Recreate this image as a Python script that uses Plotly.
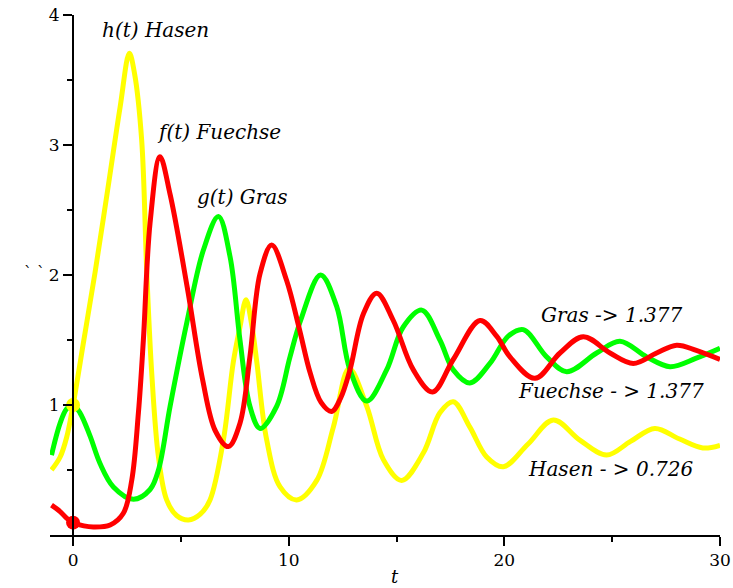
import plotly.graph_objects as go

# Hasen h(t)
t_hasen = [-1.0, -0.6, -0.3, 0.0, 0.5, 1.02, 1.6, 2.18, 2.61, 2.85, 3.18, 3.42, 3.65, 3.96,
           4.34, 4.8, 5.35, 5.9, 6.35, 6.97, 7.43, 7.74, 8.02, 8.3, 8.52, 8.98, 9.6, 10.37, 11.3,
           12.07, 12.8, 13.62, 14.39, 15.24, 16.24, 17.01, 17.63, 18.4, 19.18, 19.95, 21.1,
           22.27, 23.5, 24.74, 25.85, 26.98, 28.1, 29.2, 30.0]
h_hasen = [0.5, 0.6, 0.75, 1.0, 1.5, 2.02, 2.65, 3.29, 3.705, 3.55, 3.04, 2.01, 1.24, 0.60,
           0.27, 0.15, 0.115, 0.16, 0.27, 0.73, 1.33, 1.6, 1.81, 1.6, 1.33, 0.73, 0.37, 0.27, 0.42,
           0.83, 1.28, 0.99, 0.58, 0.42, 0.63, 0.94, 1.025, 0.83, 0.60, 0.525, 0.70,
           0.885, 0.73, 0.615, 0.72, 0.82, 0.74, 0.67, 0.69]

# Fuechse f(t)
t_fuchs = [-1.0, -0.6, -0.3, 0.0, 0.5, 0.94, 1.72, 2.33, 2.72, 3.03, 3.26, 3.57, 4.03, 4.5,
           5.3, 6.0, 6.6, 7.2, 7.74, 8.2, 8.67, 9.21, 9.9, 10.5, 10.99, 11.5, 11.99,
           12.4, 12.84, 13.46, 14.08, 14.85, 15.78, 16.67, 17.63, 18.87, 19.64, 20.26, 21.42,
           22.58, 23.66, 24.9, 25.98, 27.06, 27.99, 28.9, 30.0]
f_fuchs = [0.23, 0.18, 0.13, 0.095, 0.07, 0.062, 0.077, 0.167, 0.42, 0.94, 1.5, 2.40, 2.91, 2.62,
           1.9, 1.2, 0.8, 0.68, 0.86, 1.37, 2.01, 2.23, 1.96, 1.58, 1.25, 1.02, 0.95,
           1.05, 1.27, 1.70, 1.86, 1.65, 1.27, 1.10, 1.35, 1.65, 1.53, 1.37, 1.205,
           1.40, 1.525, 1.40, 1.32, 1.40, 1.46, 1.42, 1.35]

# Gras g(t)
t_gras = [-1.0, -0.6, -0.3, 0.0, 0.32, 0.79, 1.25, 1.87, 2.8, 3.57, 3.96, 4.5, 5.27, 6.04,
          6.74, 7.28, 7.74, 8.2, 8.67, 9.44, 10.06, 10.55, 11.48, 12.22, 12.84, 13.62, 14.54,
          15.31, 16.17, 17.01, 17.63, 18.4, 19.33, 20.18, 20.88, 21.96, 22.89, 24.28, 25.36,
          26.6, 27.68, 28.9, 30.0]
g_gras = [0.615, 0.86, 0.97, 1.0, 0.94, 0.76, 0.55, 0.37, 0.275, 0.35, 0.5, 0.99, 1.63, 2.19,
          2.45, 2.14, 1.5, 0.99, 0.82, 0.99, 1.37, 1.65, 2.0, 1.76, 1.27, 1.03, 1.27,
          1.60, 1.73, 1.5, 1.27, 1.17, 1.32, 1.53, 1.58, 1.37, 1.256, 1.40, 1.49,
          1.37, 1.295, 1.36, 1.436]

# Anfangswerte
start_t = [0.0, 0.0]
start_v = [1.0, 0.095]
start_col = ["#FFFF00", "#FF0000"]

x_ticks = [0, 10, 20, 30]
x_minor = [5, 15, 25]
y_ticks = [1, 2, 3, 4]
y_minor = [0.5, 1.5, 2.5, 3.5]

YELLOW, RED, GREEN = "#FFFF00", "#FF0000", "#00FF00"
SERIF = "DejaVu Serif"

fig = go.Figure()
fig.add_trace(go.Scatter(x=t_hasen, y=h_hasen, mode="lines",
                         line=dict(color=YELLOW, width=5, shape="spline", smoothing=1.0)))
fig.add_trace(go.Scatter(x=t_gras, y=g_gras, mode="lines",
                         line=dict(color=GREEN, width=5, shape="spline", smoothing=1.0)))
fig.add_trace(go.Scatter(x=t_fuchs, y=f_fuchs, mode="lines",
                         line=dict(color=RED, width=5, shape="spline", smoothing=1.0)))
fig.add_trace(go.Scatter(x=start_t, y=start_v, mode="markers",
                         marker=dict(color=start_col, size=14), cliponaxis=False))

W, H = 733, 588
ML, MR, MT, MB = 50, 13, 15, 53
x_lo, x_hi = -1.07, 30.0
pw = W - ML - MR


def px(xp):
    return (xp - ML) / pw


def py(yp):
    return (H - MB - yp) / (H - MT - MB)


labels = [
    ("h(t) Hasen", 155, 30),
    ("f(t) Fuechse", 219, 132),
    ("g(t) Gras", 243, 197),
    ("Gras -> 1.377", 611, 315),
    ("Fuechse - > 1.377", 611, 391),
    ("Hasen - > 0.726", 610, 469),
]
for txt, xp, yp in labels:
    fig.add_annotation(x=px(xp), y=py(yp), xref="paper", yref="paper", text="<i>%s</i>" % txt,
                       showarrow=False, xanchor="center", yanchor="middle",
                       font=dict(family=SERIF, size=20, color="black"))

fig.add_annotation(x=px(22), y=py(272), xref="paper", yref="paper", text="` `",
                   showarrow=False, font=dict(family=SERIF, size=16, color="black"))
fig.add_annotation(x=px(395), y=py(576), xref="paper", yref="paper", text="<i>t</i>",
                   showarrow=False, yanchor="middle",
                   font=dict(family=SERIF, size=18, color="black"))

fig.update_layout(
    width=W, height=H, margin=dict(l=ML, r=MR, t=MT, b=MB, autoexpand=False),
    paper_bgcolor="white", plot_bgcolor="white", showlegend=False,
    xaxis=dict(range=[x_lo, x_hi], tickvals=x_ticks, ticktext=[str(v) for v in x_ticks],
               automargin=False,
               ticks="outside", ticklen=9, tickwidth=2, tickcolor="black",
               minor=dict(tickvals=x_minor, ticks="outside", ticklen=5, tickwidth=2, tickcolor="black"),
               showline=True, linecolor="black", linewidth=2, showgrid=False, zeroline=False,
               tickfont=dict(family=SERIF, size=17, color="black")),
    yaxis=dict(range=[0, 4], tickvals=y_ticks, ticktext=[str(v) for v in y_ticks],
               automargin=False,
               anchor="free", position=(0 - x_lo) / (x_hi - x_lo),
               ticks="outside", ticklen=9, tickwidth=2, tickcolor="black",
               minor=dict(tickvals=y_minor, ticks="outside", ticklen=5, tickwidth=2, tickcolor="black"),
               showline=True, linecolor="black", linewidth=2, showgrid=False, zeroline=False,
               tickfont=dict(family=SERIF, size=17, color="black")),
)

fig.write_html("out.html")
